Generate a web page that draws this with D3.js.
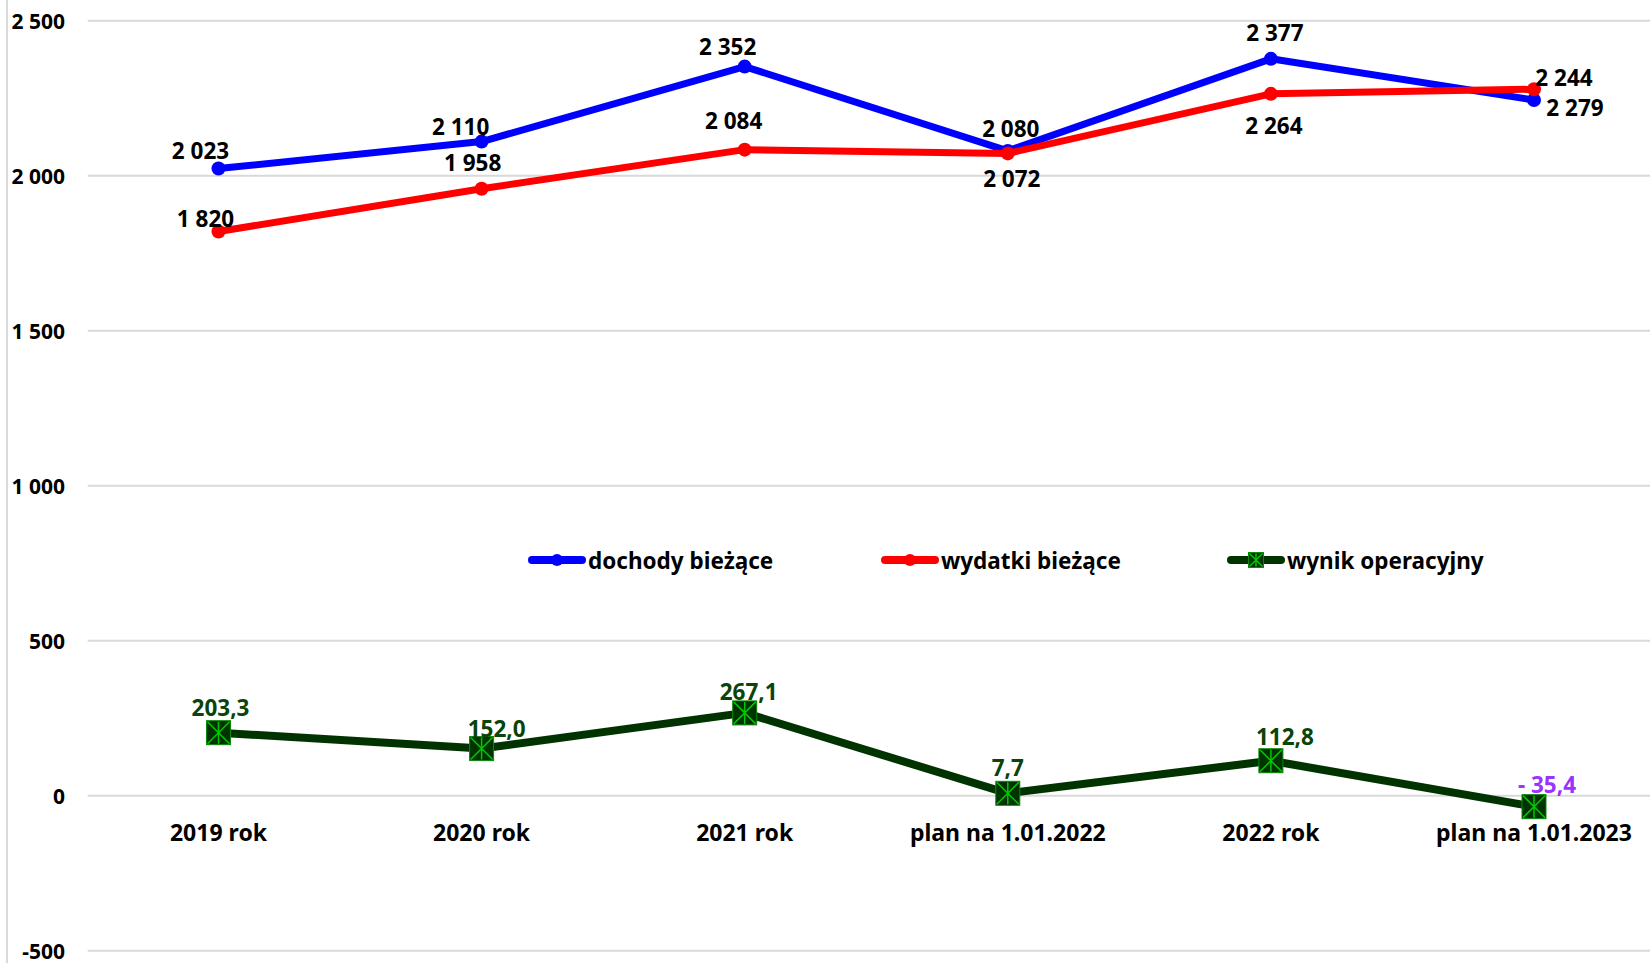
<!DOCTYPE html>
<html>
<head>
<meta charset="utf-8">
<script src="https://cdn.jsdelivr.net/npm/d3@7"></script>
<style>
  html, body { margin: 0; padding: 0; background: #fff; }
  svg { display: block; font-family: "Noto Sans", "Open Sans", sans-serif; font-weight: bold; }
</style>
</head>
<body>
<svg id="chart" width="1650" height="963"></svg>
<script>
// ---- data ----
const categories = ["2019 rok", "2020 rok", "2021 rok", "plan na 1.01.2022", "2022 rok", "plan na 1.01.2023"];
const dochody = [2023, 2110, 2352, 2080, 2377, 2244];
const wydatki = [1820, 1958, 2084, 2072, 2264, 2279];
const wynik = [203.3, 152.0, 267.1, 7.7, 112.8, -35.4];
const yTicks = [-500, 0, 500, 1000, 1500, 2000, 2500];
const seriesNames = ["dochody bieżące", "wydatki bieżące", "wynik operacyjny"];

// label placement offsets (px, relative to point)
const offDochody = [[-18, -18], [-21, -15], [-17, -20], [3, -22], [4, -26], [30, -23]];
const offWydatki = [[-13, -13], [-9, -26], [-11, -29], [4, 25], [3, 32], [41, 18]];
const offWynik = [[2, -25], [15, -20], [4, -21], [0, -26], [14, -24], [13, -22]];

// ---- setup ----
const svg = d3.select("#chart");
const W = 1650, H = 963;
const x = d3.scalePoint().domain(categories).range([218.5, 1534]);
const y = d3.scaleLinear().domain([-500, 2500]).range([950.7, 20.7]);

const locale = d3.formatLocale({ decimal: ",", thousands: " ", grouping: [3], currency: ["", ""] });
const fInt = locale.format(",.0f");
const fDec = locale.format(",.1f");
const fmtTick = v => v < 0 ? "-" + fInt(-v) : fInt(v);
const fmtWynik = v => v < 0 ? "- " + fDec(-v) : fDec(v);

// left border line
svg.append("line").attr("x1", 7).attr("x2", 7).attr("y1", 0).attr("y2", H)
  .attr("stroke", "#d9d9d9").attr("stroke-width", 2);

// gridlines
svg.append("g").selectAll("line").data(yTicks).join("line")
  .attr("x1", 87.7).attr("x2", W)
  .attr("y1", d => y(d)).attr("y2", d => y(d))
  .attr("stroke", "#d9d9d9").attr("stroke-width", 2);

// y tick labels
svg.append("g").selectAll("text").data(yTicks).join("text")
  .attr("x", 65).attr("y", d => y(d))
  .attr("text-anchor", "end").attr("dominant-baseline", "central")
  .attr("font-size", 21).attr("fill", "#000")
  .text(fmtTick);

// x labels
svg.append("g").selectAll("text").data(categories).join("text")
  .attr("x", d => x(d)).attr("y", 832)
  .attr("text-anchor", "middle").attr("dominant-baseline", "central")
  .attr("font-size", 23).attr("fill", "#000")
  .text(d => d);

const line = d3.line().x((d, i) => x(categories[i])).y(d => y(d));

function drawCircleSeries(vals, color) {
  svg.append("path").datum(vals).attr("d", line)
    .attr("fill", "none").attr("stroke", color).attr("stroke-width", 7)
    .attr("stroke-linejoin", "round");
  svg.append("g").selectAll("circle").data(vals).join("circle")
    .attr("cx", (d, i) => x(categories[i])).attr("cy", d => y(d)).attr("r", 7)
    .attr("fill", color);
}
drawCircleSeries(dochody, "#0000ff");
drawCircleSeries(wydatki, "#ff0000");

// wynik series
const dg = "#003300", lg = "#00c800";
svg.append("path").datum(wynik).attr("d", line)
  .attr("fill", "none").attr("stroke", dg).attr("stroke-width", 8)
  .attr("stroke-linejoin", "round");

function starSquare(g, cx, cy, s) {
  const h = s / 2;
  g.append("rect").attr("x", cx - h).attr("y", cy - h).attr("width", s).attr("height", s)
    .attr("fill", dg).attr("stroke", "#0a8a0a").attr("stroke-width", 1);
  const p = h - 1;
  g.append("path")
    .attr("d", `M${cx - p},${cy - p}L${cx + p},${cy + p}M${cx + p},${cy - p}L${cx - p},${cy + p}M${cx},${cy - p}L${cx},${cy + p}`)
    .attr("stroke", lg).attr("stroke-width", 1.5).attr("fill", "none");
}
const mg = svg.append("g");
wynik.forEach((v, i) => starSquare(mg, x(categories[i]), y(v), 24));

// data labels
function labels(vals, offs, fmt, colorFn) {
  svg.append("g").selectAll("text").data(vals).join("text")
    .attr("x", (d, i) => x(categories[i]) + offs[i][0])
    .attr("y", (d, i) => y(d) + offs[i][1])
    .attr("text-anchor", "middle").attr("dominant-baseline", "central")
    .attr("font-size", 22.5)
    .attr("fill", colorFn)
    .text(fmt);
}
labels(dochody, offDochody, fInt, () => "#000");
labels(wydatki, offWydatki, fInt, () => "#000");
labels(wynik, offWynik, fmtWynik, d => d < 0 ? "#9933ff" : "#0a440a");

// legend
const legendX = [529, 882, 1228];
const legendColors = ["#0000ff", "#ff0000", dg];
const ly = 560;
const lgG = svg.append("g");
seriesNames.forEach((name, i) => {
  const x0 = legendX[i], x1 = x0 + 56;
  lgG.append("line").attr("x1", x0 + 3).attr("x2", x1 - 3).attr("y1", ly).attr("y2", ly)
    .attr("stroke", legendColors[i]).attr("stroke-width", 8).attr("stroke-linecap", "round");
  if (i < 2) {
    lgG.append("circle").attr("cx", (x0 + x1) / 2).attr("cy", ly).attr("r", 6).attr("fill", legendColors[i]);
  } else {
    starSquare(lgG, (x0 + x1) / 2, ly, 15);
  }
  lgG.append("text").attr("x", x1 + 3).attr("y", ly)
    .attr("dominant-baseline", "central").attr("font-size", 22.5).attr("fill", "#000")
    .text(name);
});
</script>
</body>
</html>
